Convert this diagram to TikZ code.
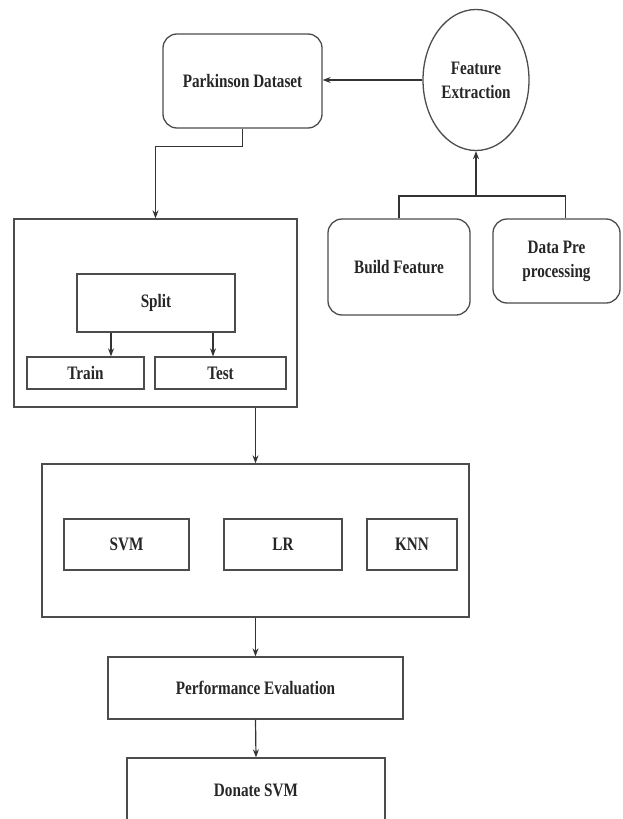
\documentclass[tikz,border=0pt]{standalone}
\usepackage{fontspec}
\setmainfont{Liberation Serif}[FakeStretch=0.8]
\usetikzlibrary{arrows.meta,shapes.geometric}
\begin{document}
\begin{tikzpicture}[x=1pt, y=-1pt,
        every node/.style={font=\fontsize{19}{24}\selectfont\bfseries, text=black!85},
        blk/.style={draw=black!70, line width=1.3pt, rectangle, inner sep=0pt},
        rblk/.style={blk, rounded corners=14pt},
        arr/.style={draw=black!80, line width=1.2pt, -{Stealth[length=8pt, width=6pt]}},
        ln/.style={draw=black!80, line width=1.2pt}]
        \useasboundingbox (0,0) rectangle (623,819);

        \node[rblk, minimum width=159pt, minimum height=94pt] (data) at (242.5, 81) {Parkinson Dataset};
        \node[ellipse, draw=black!70, line width=1.3pt, minimum width=106pt, minimum height=141pt, inner sep=0pt, align=center] (feat) at (476, 80) {Feature\\Extraction};
        \node[rblk, minimum width=142pt, minimum height=96pt] (build) at (399, 267) {Build Feature};
        \node[rblk, minimum width=127pt, minimum height=84pt, align=center] (prep) at (556.5, 261) {Data Pre\\processing};
        \coordinate (fork) at (476, 196);

        % split container
        \node[blk, minimum width=283pt, minimum height=188pt] (box1) at (155.5, 313) {};
        \node[blk, minimum width=158pt, minimum height=58pt] (split) at (156, 303) {Split};
        \node[blk, minimum width=117pt, minimum height=32pt] (train) at (85.5, 373) {Train};
        \node[blk, minimum width=131pt, minimum height=32pt] (test) at (220.5, 373) {Test};

        % models
        \node[blk, minimum width=427pt, minimum height=153pt] (box2) at (255.5, 540.5) {};
        \node[blk, minimum width=125pt, minimum height=51pt] (svm) at (126.5, 544.5) {SVM};
        \node[blk, minimum width=118pt, minimum height=51pt] (lr) at (283, 544.5) {LR};
        \node[blk, minimum width=90pt, minimum height=51pt] (knn) at (412, 544.5) {KNN};

        \node[blk, minimum width=295pt, minimum height=62pt] (perf) at (255.5, 688) {Performance Evaluation};
        \node[blk, minimum width=258pt, minimum height=64pt] (donate) at (256, 790) {Donate SVM};

        \draw[arr] (feat.west) -- (feat.west -| data.east);
        \draw[ln] (build.north) |- (fork);
        \draw[ln] ([xshift=9pt]prep.north) |- (fork);
        \draw[arr] (fork) -- (feat.south);
        \draw[arr] (data.south) -- ++(0,18) -| (box1.north);
        \draw[arr] ([xshift=-45pt]split.south) -- ([xshift=-45pt]split.south |- train.north);
        \draw[arr] ([xshift=57pt]split.south) -- ([xshift=57pt]split.south |- test.north);
        \draw[arr] (box2.north |- box1.south) -- (box2.north);
        \draw[arr] (box2.south) -- (perf.north);
        \draw[arr] (perf.south) -- (donate.north);
    \end{tikzpicture}
\end{document}
